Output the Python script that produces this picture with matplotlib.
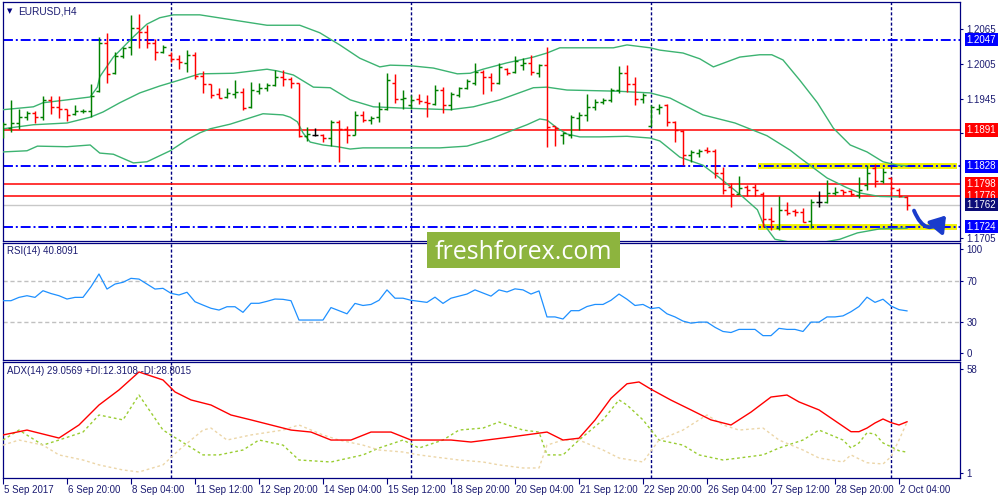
import numpy as np
import matplotlib
matplotlib.use("Agg")
import matplotlib.pyplot as plt
import matplotlib.transforms as mtransforms
from matplotlib.patches import FancyArrowPatch, Rectangle

plt.rcParams['font.family'] = ['Liberation Sans', 'DejaVu Sans']

# ---------------- data ----------------
symbol_title = "EURUSD,H4"
rsi_title = "RSI(14) 40.8091"
adx_title = "ADX(14) 29.0569 +DI:12.3108 -DI:28.8015"
watermark = "freshforex.com"

time_label_bars = [0, 8, 16, 24, 32, 40, 48, 56, 64, 72, 80, 88, 96, 104, 112]
time_labels = ["5 Sep 2017", "6 Sep 20:00", "8 Sep 04:00", "11 Sep 12:00", "12 Sep 20:00",
               "14 Sep 04:00", "15 Sep 12:00", "18 Sep 20:00", "20 Sep 04:00", "21 Sep 12:00",
               "22 Sep 20:00", "26 Sep 04:00", "27 Sep 12:00", "28 Sep 20:00", "2 Oct 04:00"]
week_separator_bars = [21, 51, 81, 111]

opens = [
    1.1892, 1.1895, 1.1903, 1.1914, 1.1920, 1.1914, 1.1943, 1.1930, 1.1927, 1.1919,
    1.1923, 1.1924, 1.1958, 1.2042, 1.1989, 1.2018, 1.2035, 1.2067, 1.2061, 1.2041,
    1.2026, 1.2021, 1.2013, 1.2006, 1.2021, 1.1985, 1.1970, 1.1954, 1.1948, 1.1954,
    1.1957, 1.1931, 1.1959, 1.1963, 1.1969, 1.1983, 1.1979, 1.1972, 1.1881, 1.1882,
    1.1882, 1.1877, 1.1905, 1.1892, 1.1883, 1.1917, 1.1908, 1.1913, 1.1928, 1.1973,
    1.1944, 1.1934, 1.1945, 1.1939, 1.1935, 1.1960, 1.1934, 1.1951, 1.1963, 1.1973,
    1.1992, 1.1982, 1.1973, 1.1996, 1.1992, 1.2004, 1.2007, 1.1989, 1.2003, 1.1897,
    1.1882, 1.1882, 1.1911, 1.1917, 1.1931, 1.1940, 1.1942, 1.1960, 1.1990, 1.1970,
    1.1944, 1.1898, 1.1927, 1.1934, 1.1905, 1.1890, 1.1848, 1.1851, 1.1856, 1.1855,
    1.1817, 1.1792, 1.1781, 1.1792, 1.1792, 1.1780, 1.1737, 1.1721, 1.1753, 1.1751,
    1.1750, 1.1734, 1.1766, 1.1767, 1.1782, 1.1787, 1.1786, 1.1778, 1.1796, 1.1825,
    1.1802, 1.1808, 1.1788, 1.1775]
highs = [
    1.1905, 1.1942, 1.1928, 1.1924, 1.1923, 1.1950, 1.1950, 1.1950, 1.1928, 1.1934,
    1.1927, 1.1970, 1.2052, 1.2059, 1.2026, 1.2035, 1.2090, 1.2092, 1.2072, 1.2049,
    1.2038, 1.2026, 1.2021, 1.2029, 1.2026, 1.1993, 1.1971, 1.1963, 1.1963, 1.1977,
    1.1963, 1.1974, 1.1972, 1.1973, 1.1995, 1.1995, 1.1982, 1.1973, 1.1896, 1.1894,
    1.1884, 1.1909, 1.1908, 1.1898, 1.1923, 1.1924, 1.1915, 1.1940, 1.1989, 1.1988,
    1.1960, 1.1951, 1.1954, 1.1951, 1.1969, 1.1966, 1.1957, 1.1966, 1.1979, 1.2007,
    1.1995, 1.1989, 1.2006, 1.1998, 1.2019, 1.2015, 1.2021, 1.2005, 1.2035, 1.1898,
    1.1888, 1.1917, 1.1922, 1.1953, 1.1944, 1.1947, 1.1963, 1.2002, 1.2003, 1.1982,
    1.1955, 1.1934, 1.1936, 1.1936, 1.1907, 1.1891, 1.1856, 1.1858, 1.1861, 1.1858,
    1.1827, 1.1799, 1.1811, 1.1796, 1.1797, 1.1784, 1.1757, 1.1776, 1.1767, 1.1754,
    1.1756, 1.1771, 1.1786, 1.1804, 1.1793, 1.1788, 1.1788, 1.1809, 1.1830, 1.1832,
    1.1825, 1.1810, 1.1790, 1.1776]
lows = [
    1.1877, 1.1887, 1.1893, 1.1909, 1.1903, 1.1909, 1.1919, 1.1911, 1.1907, 1.1917,
    1.1920, 1.1913, 1.1956, 1.1972, 1.1988, 1.2015, 1.2021, 1.2032, 1.2032, 1.2012,
    1.2024, 1.2009, 1.1996, 1.1992, 1.1979, 1.1955, 1.1947, 1.1946, 1.1946, 1.1947,
    1.1926, 1.1929, 1.1954, 1.1959, 1.1967, 1.1967, 1.1963, 1.1879, 1.1872, 1.1881,
    1.1870, 1.1864, 1.1836, 1.1868, 1.1882, 1.1905, 1.1901, 1.1905, 1.1926, 1.1938,
    1.1928, 1.1928, 1.1936, 1.1914, 1.1934, 1.1921, 1.1926, 1.1948, 1.1961, 1.1969,
    1.1953, 1.1959, 1.1970, 1.1986, 1.1989, 1.1995, 1.1986, 1.1982, 1.1861, 1.1864,
    1.1867, 1.1877, 1.1891, 1.1907, 1.1926, 1.1936, 1.1940, 1.1955, 1.1957, 1.1934,
    1.1937, 1.1897, 1.1918, 1.1897, 1.1871, 1.1830, 1.1836, 1.1845, 1.1852, 1.1808,
    1.1781, 1.1757, 1.1780, 1.1777, 1.1777, 1.1723, 1.1718, 1.1718, 1.1744, 1.1742,
    1.1731, 1.1721, 1.1758, 1.1765, 1.1778, 1.1778, 1.1777, 1.1773, 1.1788, 1.1793,
    1.1799, 1.1776, 1.1775, 1.1753]
closes = [
    1.1901, 1.1903, 1.1913, 1.1920, 1.1914, 1.1943, 1.1930, 1.1927, 1.1917, 1.1924,
    1.1924, 1.1950, 1.2042, 1.1988, 1.2018, 1.2032, 1.2067, 1.2061, 1.2041, 1.2025,
    1.2035, 1.2013, 1.2009, 1.2021, 1.1985, 1.1970, 1.1951, 1.1947, 1.1955, 1.1956,
    1.1929, 1.1960, 1.1964, 1.1969, 1.1983, 1.1979, 1.1973, 1.1881, 1.1884, 1.1882,
    1.1877, 1.1905, 1.1892, 1.1883, 1.1917, 1.1909, 1.1911, 1.1928, 1.1977, 1.1944,
    1.1947, 1.1943, 1.1941, 1.1937, 1.1960, 1.1934, 1.1954, 1.1963, 1.1976, 1.1992,
    1.1982, 1.1973, 1.2000, 1.1990, 1.2010, 1.2006, 1.1991, 1.2003, 1.1896, 1.1894,
    1.1885, 1.1914, 1.1916, 1.1931, 1.1940, 1.1943, 1.1960, 1.1990, 1.1970, 1.1944,
    1.1951, 1.1930, 1.1931, 1.1905, 1.1891, 1.1848, 1.1853, 1.1855, 1.1855, 1.1817,
    1.1787, 1.1781, 1.1790, 1.1788, 1.1788, 1.1737, 1.1734, 1.1753, 1.1748, 1.1750,
    1.1732, 1.1767, 1.1766, 1.1782, 1.1784, 1.1784, 1.1781, 1.1787, 1.1816, 1.1802,
    1.1819, 1.1790, 1.1776, 1.1762]

bb_upper_bars = [0, 3.8, 5, 8, 10.9, 11.8, 12.1, 13.8, 16.3, 18, 19.6, 21.3, 24.6, 33, 37.1,
                 39.6, 42.1, 44.6, 47.1, 48.4, 50.9, 53.8, 56.8, 58.4, 60, 63, 66.3, 68, 69.6,
                 72.1, 76.3, 78, 80.9, 82.1, 85, 87.1, 88.8, 92.1, 94.6, 96.1, 97.5, 99.6,
                 101.8, 103.8, 105.9, 108, 110, 111.8, 113]
bb_upper = [1.1926, 1.1931, 1.1938, 1.1943, 1.1948, 1.1965, 1.1983, 1.2017, 1.2052, 1.2074,
            1.2085, 1.2090, 1.2090, 1.2072, 1.2072, 1.2059, 1.2038, 1.2015, 1.2000, 1.2003,
            1.2002, 1.1998, 1.1988, 1.1989, 1.1996, 1.2007, 1.2017, 1.2024, 1.2033, 1.2033,
            1.2033, 1.2038, 1.2033, 1.2029, 1.2024, 1.2014, 1.2000, 1.2017, 1.2021, 1.2021,
            1.2012, 1.1977, 1.1938, 1.1894, 1.1865, 1.1853, 1.1836, 1.1830, 1.1829]
bb_mid_bars = [0, 3.8, 8, 10.9, 12.5, 14.6, 17.1, 19.6, 21.3, 24.6, 28.8, 33, 34.3, 36.3, 38.8,
               40.9, 43.4, 46.3, 49.6, 55.9, 58.8, 62.1, 66.3, 68, 70.5, 76.8, 80.9, 83.4,
               87.5, 91.5, 95.5, 98.4, 99.6, 103, 105.5, 107.1, 109.6, 113]
bb_mid = [1.1893, 1.1900, 1.1903, 1.1913, 1.1922, 1.1938, 1.1955, 1.1967, 1.1974, 1.1988,
          1.1989, 1.1996, 1.1993, 1.1986, 1.1965, 1.1964, 1.1943, 1.1931, 1.1929, 1.1926,
          1.1931, 1.1943, 1.1964, 1.1965, 1.1960, 1.1958, 1.1955, 1.1946, 1.1917, 1.1903,
          1.1881, 1.1856, 1.1843, 1.1808, 1.1791, 1.1782, 1.1776, 1.1775]
bb_low_bars = [0, 3, 4.3, 8, 10.9, 12.1, 13.8, 16.3, 18, 20.9, 23, 24.6, 25.9, 28.4, 30.9, 32.5,
               35, 35.9, 36.8, 37.5, 38.4, 40, 41.8, 43.4, 45, 48.4, 54.6, 58, 60.9, 63.8,
               65.5, 67.1, 68, 69.3, 70.5, 72.1, 74.6, 78, 80.9, 82.1, 83, 84.6, 87.5, 89.6,
               92.5, 94.3, 95, 95.9, 96.5, 98.4, 102.6, 104.6, 106.8, 109.6, 113]
bb_low = [1.1853, 1.1855, 1.1863, 1.1862, 1.1865, 1.1851, 1.1849, 1.1834, 1.1836, 1.1855,
          1.1874, 1.1886, 1.1893, 1.1901, 1.1912, 1.1919, 1.1917, 1.1913, 1.1905, 1.1886,
          1.1870, 1.1865, 1.1862, 1.1858, 1.1860, 1.1860, 1.1860, 1.1863, 1.1875, 1.1891,
          1.1900, 1.1910, 1.1908, 1.1894, 1.1884, 1.1879, 1.1879, 1.1880, 1.1877, 1.1872,
          1.1862, 1.1844, 1.1830, 1.1808, 1.1775, 1.1753, 1.1730, 1.1713, 1.1702, 1.1697,
          1.1697, 1.1702, 1.1713, 1.1720, 1.1721]

rsi_values = [
    50.6, 50.6, 53.8, 55.4, 53.8, 60.2, 57.5, 55.4, 52.2, 53.8,
    53.8, 64.0, 76.3, 61.8, 66.6, 68.3, 72.1, 71.4, 66.6, 61.8,
    62.5, 57.7, 56.1, 58.7, 49.6, 46.4, 43.3, 41.6, 44.8, 44.8,
    39.4, 48.1, 48.1, 50.0, 52.2, 51.9, 50.6, 32.0, 32.0, 32.0,
    32.0, 44.0, 41.0, 38.0, 48.0, 46.0, 47.0, 51.0, 61.0, 53.0,
    53.0, 51.0, 50.0, 49.0, 54.0, 48.0, 53.0, 55.0, 57.0, 61.0,
    58.0, 55.0, 61.0, 59.0, 62.0, 61.0, 57.0, 60.0, 35.0, 35.0,
    33.0, 41.0, 41.0, 45.0, 47.0, 47.0, 51.0, 57.0, 52.0, 46.0,
    47.0, 43.0, 44.0, 38.0, 35.0, 31.0, 29.0, 30.0, 30.0, 25.0,
    21.0, 20.0, 23.0, 23.0, 23.0, 17.0, 17.0, 24.0, 23.0, 23.0,
    21.0, 30.0, 30.0, 35.0, 35.0, 36.0, 40.0, 45.0, 54.0, 49.0,
    52.0, 45.5, 42.0, 40.8]
rsi_levels = [70, 30]

adx_bars = [0, 3, 7, 9.5, 12, 14.5, 17, 20, 21.5, 23.5, 26, 28.5, 31, 33.5, 36, 38.5, 41, 43.5,
            46, 48.5, 51, 56, 58.5, 63.5, 68, 70, 72, 74, 76, 78, 79.5, 81, 83.5, 86, 88.5, 91,
            93.5, 96, 98, 99.5, 102, 106, 107, 108, 109, 110, 111, 112, 113]
adx_values = [21.8, 24.5, 20.1, 27.3, 38.3, 46.6, 56.5, 52.1, 45.5, 41.1, 38.3, 32.8, 30.1, 27.3,
              24.5, 23.4, 19.0, 19.0, 23.4, 23.4, 19.0, 19.0, 17.9, 20.7, 23.4, 19.0, 20.0, 30.0,
              42.0, 50.0, 51.0, 47.0, 41.0, 35.6, 30.1, 27.3, 34.4, 42.7, 43.8, 40.0, 35.6, 23.6,
              23.6, 25.6, 28.4, 30.6, 28.6, 27.3, 29.06]
pdi_bars = [0, 2, 5, 7, 10, 12, 15, 17, 20, 22, 25, 27, 30, 32, 35, 37, 41, 45, 47, 50, 52, 55,
            57, 60, 62, 65, 67, 68, 70, 72, 75, 77, 78, 80, 82, 85, 87, 90, 92, 95, 97, 100, 102,
            105, 106, 107, 108, 109, 110, 111, 112, 113]
pdi_values = [19.0, 24.5, 16.2, 19.0, 23.4, 32.8, 30.1, 43.8, 24.5, 19.0, 10.8, 10.8, 13.5, 19.0,
              16.2, 8.0, 6.9, 10.8, 14.6, 19.0, 14.6, 19.0, 24.5, 25.6, 28.9, 24.5, 23.4, 10.8,
              10.8, 19.0, 30.1, 41.1, 38.3, 30.1, 19.0, 16.2, 10.8, 8.0, 9.1, 10.8, 14.6, 19.0,
              24.5, 19.0, 14.6, 17.4, 23.0, 22.3, 17.4, 15.3, 13.1, 12.31]
mdi_bars = [0, 2, 5, 7, 10, 12, 15, 17, 20, 22, 25, 26, 28, 31, 35, 37, 40, 42, 45, 47, 50, 52,
            55, 57, 60, 62, 65, 67, 68, 70, 72, 75, 77, 80, 82, 85, 87, 88, 90, 92, 95, 97, 100,
            102, 105, 106, 107, 108, 110, 111, 112, 113]
mdi_values = [16.2, 19.0, 16.2, 10.8, 8.0, 5.3, 2.5, 1.4, 5.3, 13.5, 24.5, 25.6, 19.0, 21.8, 24.5,
              27.3, 21.8, 19.0, 16.2, 13.5, 12.4, 10.8, 9.1, 8.0, 6.9, 5.3, 3.6, 3.6, 16.2, 19.0,
              19.0, 13.5, 9.1, 6.9, 19.0, 24.5, 30.1, 32.8, 27.3, 24.5, 25.6, 19.0, 13.5, 9.1,
              6.9, 10.8, 8.6, 6.5, 5.8, 9.8, 19.0, 28.8]

price_ticks = [1.2065, 1.2005, 1.1945, 1.1885, 1.1705]
blue_levels = [1.2047, 1.1828, 1.1724]
red_levels = [1.1891, 1.1798, 1.1776]
bid_price = 1.1762
yellow_zones = [1.1828, 1.1724]
yellow_from_bar = 94.4
price_boxes = [(1.2047, '#0000ff'), (1.1891, '#ff0000'), (1.1828, '#0000ff'),
               (1.1798, '#ff0000'), (1.1776, '#ff0000'), (1.1762, '#0c0c78'),
               (1.1724, '#0000ff')]
arrow_start = (113.75, 1.1756)
arrow_end = (118.1, 1.1747)

# ---------------- styling ----------------
NAVY = '#000080'
TXT = '#1c1c72'
GREEN = '#008000'
RED = '#ff0000'
BB = '#3cb371'
XMAX = 119.625
XMIN = -0.06
TICK_LEN = 2.5
TICK_PAD = 2.0

fig = plt.figure(figsize=(10, 5), dpi=100)
fig.patch.set_facecolor('white')

ax1 = fig.add_axes([0.0025, 0.518, 0.9575, 0.478])
ax2 = fig.add_axes([0.0025, 0.280, 0.9575, 0.234])
ax3 = fig.add_axes([0.0025, 0.044, 0.9575, 0.232])

for ax in (ax1, ax2, ax3):
    ax.set_xlim(XMIN, XMAX)
    for sp in ax.spines.values():
        sp.set_color(NAVY)
        sp.set_linewidth(0.9)
    ax.yaxis.tick_right()
    ax.tick_params(axis='y', which='both', left=False, right=True, labelleft=False,
                   labelright=True, direction='out', length=TICK_LEN, width=0.8, color=NAVY,
                   labelsize=7, labelcolor=TXT, pad=TICK_PAD)
    ax.tick_params(axis='x', bottom=False, top=False, labelbottom=False)
    for b in week_separator_bars:
        ax.axvline(b, color=NAVY, lw=1.0, ls=(0, (2.2, 1.5)), zorder=2)

# ---- main price panel ----
ax1.set_ylim(1.16990, 1.21122)
ax1.set_yticks(price_ticks)
ax1.set_yticklabels([f"{p:.4f}" for p in price_ticks])

idx = np.arange(len(opens))
o = np.array(opens); h = np.array(highs); l = np.array(lows); c = np.array(closes)
cols = np.where(c > o, GREEN, np.where(c < o, RED, 'black'))

ax1.hlines(yellow_zones, yellow_from_bar, XMAX - 0.35, colors='#f0f000', lw=4.2, zorder=1.5)
for lv in blue_levels:
    ax1.axhline(lv, color='#0000ff', lw=1.4, ls=(0, (5.1, 1.5, 1.0, 1.5)), zorder=2)
for lv in red_levels:
    ax1.axhline(lv, color=RED, lw=1.1, zorder=2)
ax1.axhline(bid_price, color='#c8c8c8', lw=1.0, zorder=1.8)

ax1.plot(bb_upper_bars, bb_upper, color=BB, lw=1.0, zorder=3)
ax1.plot(bb_mid_bars, bb_mid, color=BB, lw=1.0, zorder=3)
ax1.plot(bb_low_bars, bb_low, color=BB, lw=1.0, zorder=3)

ax1.vlines(idx, l, h, colors=cols, lw=1.05, zorder=4)
ax1.hlines(o, idx - 0.375, idx, colors=cols, lw=1.05, zorder=4)
ax1.hlines(c, idx, idx + 0.375, colors=cols, lw=1.05, zorder=4)

arrow = FancyArrowPatch(arrow_start, arrow_end, connectionstyle='arc3,rad=0.9',
                        arrowstyle='-|>,head_length=0.9,head_width=0.6', mutation_scale=10,
                        color='#1a3ccc', lw=2.8, zorder=6)
ax1.add_patch(arrow)

box_tr = mtransforms.blended_transform_factory(ax1.transAxes, ax1.transData)
box_off = mtransforms.ScaledTranslation((TICK_LEN + TICK_PAD) / 72.0, 0, fig.dpi_scale_trans)
for p, colr in price_boxes:
    ax1.text(1.0, p, f"{p:.4f}", transform=box_tr + box_off, ha='left', va='center',
             fontsize=7, color='white', clip_on=False, zorder=20,
             bbox=dict(boxstyle='square,pad=0.18', fc=colr, ec='none'))

# ---- RSI panel ----
ax2.set_ylim(-6.44, 106.1)
ax2.set_yticks([100, 70, 30, 0])
ax2.set_yticklabels(['100', '70', '30', '0'])
for lv in rsi_levels:
    ax2.axhline(lv, color='#c0c0c0', lw=1.0, ls=(0, (3, 2)), zorder=1)
ax2.plot(idx, rsi_values, color='#1e90ff', lw=0.9, zorder=3)

# ---- ADX panel ----
ax3.set_ylim(-1.92, 62.0)
ax3.set_yticks([58, 1])
ax3.set_yticklabels(['58', '1'])
ax3.plot(pdi_bars, pdi_values, color='#9acd32', lw=1.0, ls=(0, (2, 2)), zorder=3)
ax3.plot(mdi_bars, mdi_values, color='#ecd6a8', lw=1.0, ls=(0, (2, 2)), zorder=3)
ax3.plot(adx_bars, adx_values, color=RED, lw=1.0, zorder=4)

ax3.set_xticks(time_label_bars)
ax3.set_xticklabels(time_labels)
ax3.tick_params(axis='x', bottom=True, labelbottom=True, direction='out', length=4,
                width=0.8, color=NAVY, labelsize=7, labelcolor=TXT, pad=1)
off = mtransforms.ScaledTranslation(0.015, 0, fig.dpi_scale_trans)
for lbl in ax3.get_xticklabels():
    lbl.set_ha('left')
    lbl.set_transform(lbl.get_transform() + off)

# ---- panel captions ----
fig.text(0.0065, 1 - 11.5 / 500, '\u25bc', fontsize=5, color=NAVY, family='DejaVu Sans',
         ha='left', va='center')
fig.text(0.018, 1 - 11 / 500, symbol_title, fontsize=7.3, color=TXT, ha='left', va='center')
fig.text(0.007, 1 - 251.5 / 500, rsi_title, fontsize=7, color=TXT, ha='left', va='center')
fig.text(0.007, 1 - 371 / 500, adx_title, fontsize=7, color=TXT, ha='left', va='center')

# ---- watermark ----
fig.patches.append(Rectangle((0.427, 0.464), 0.193, 0.072, transform=fig.transFigure,
                             fc='#8db43e', ec='none', zorder=50))
fig.text(0.5235, 0.482, watermark, fontsize=18, color='white', family=['Open Sans', 'DejaVu Sans'],
         ha='center', va='baseline', zorder=51)

fig.savefig('out.png', dpi=100, facecolor='white')
